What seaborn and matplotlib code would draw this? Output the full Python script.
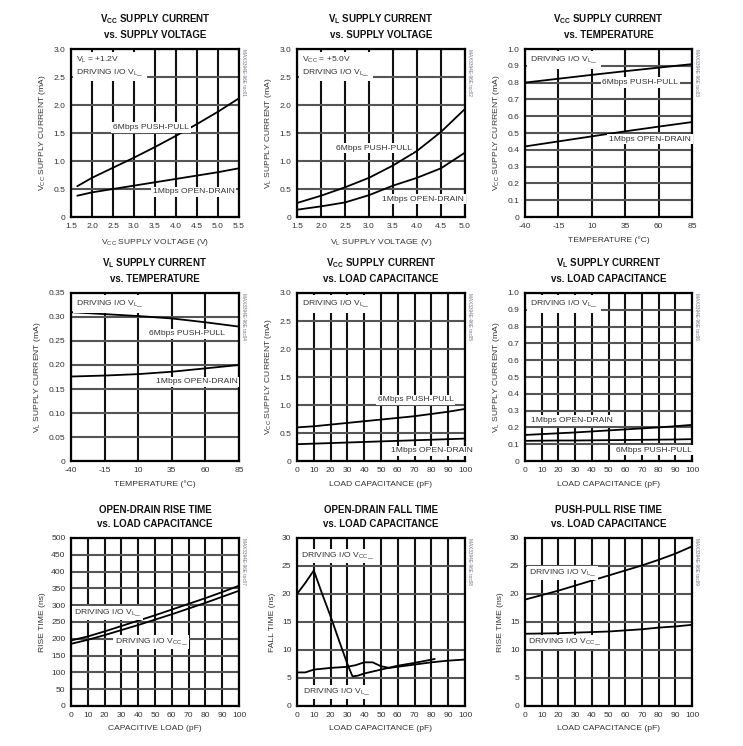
import matplotlib
matplotlib.use('Agg')
import matplotlib.pyplot as plt
import seaborn as sns
import numpy as np

sns.set_style('white')
FONT = ['Liberation Sans', 'DejaVu Sans']
plt.rcParams['font.family'] = FONT
plt.rcParams['mathtext.fontset'] = 'custom'
plt.rcParams['mathtext.rm'] = 'Liberation Sans'
plt.rcParams['mathtext.it'] = 'Liberation Sans'
plt.rcParams['mathtext.bf'] = 'Liberation Sans:bold'
plt.rcParams['mathtext.default'] = 'regular'

TXT = '#333333'
FS = 6.1  # ticks / labels

# ---- data ----
# 1: VCC supply current vs supply voltage
p1_x = [1.65, 2.0, 2.5, 3.0, 3.5, 4.0, 4.5, 5.0, 5.5]
p1_pp = [0.55, 0.70, 0.88, 1.06, 1.25, 1.45, 1.66, 1.88, 2.12]
p1_od = [0.38, 0.44, 0.50, 0.56, 0.62, 0.68, 0.74, 0.80, 0.87]

# 2: VL supply current vs supply voltage
p2_x = [1.5, 2.0, 2.5, 3.0, 3.5, 4.0, 4.5, 5.0]
p2_pp = [0.25, 0.38, 0.53, 0.70, 0.92, 1.18, 1.52, 1.93]
p2_od = [0.13, 0.19, 0.26, 0.39, 0.56, 0.70, 0.87, 1.15]

# 3: VCC supply current vs temperature
temp = [-40, -15, 10, 35, 60, 85]
p3_pp = [0.800, 0.823, 0.846, 0.868, 0.889, 0.910]
p3_od = [0.420, 0.450, 0.480, 0.510, 0.538, 0.565]

# 4: VL supply current vs temperature
p4_pp = [0.310, 0.306, 0.302, 0.297, 0.289, 0.280]
p4_od = [0.176, 0.178, 0.181, 0.186, 0.193, 0.200]

# load capacitance axis
cap = [0, 10, 20, 30, 40, 50, 60, 70, 80, 90, 100]
# 5: VCC supply current vs load capacitance
p5_pp = [0.60, 0.62, 0.65, 0.68, 0.71, 0.74, 0.77, 0.80, 0.84, 0.88, 0.93]
p5_od = [0.30, 0.31, 0.32, 0.33, 0.34, 0.35, 0.36, 0.37, 0.38, 0.39, 0.40]
# 6: VL supply current vs load capacitance
p6_od = [0.155, 0.160, 0.165, 0.170, 0.176, 0.182, 0.188, 0.194, 0.200, 0.207, 0.215]
p6_pp = [0.120, 0.121, 0.122, 0.122, 0.123, 0.124, 0.125, 0.126, 0.127, 0.128, 0.130]
# 7: open-drain rise time
p7_vl = [195, 207, 222, 238, 254, 270, 287, 304, 321, 339, 358]
p7_vcc = [185, 197, 211, 226, 241, 257, 273, 290, 307, 325, 343]
# 8: open-drain fall time
p8_vcc_x = [0, 5, 10, 15, 20, 25, 30, 33, 36, 40, 50, 60, 70, 82]
p8_vcc = [20.0, 22.0, 24.2, 20.0, 16.0, 11.7, 7.5, 5.3, 5.4, 5.8, 6.5, 7.2, 7.7, 8.4]
p8_vl_x = [0, 5, 8, 10, 20, 30, 35, 40, 45, 50, 55, 60, 70, 80, 90, 100]
p8_vl = [6.0, 6.0, 6.3, 6.5, 6.8, 7.0, 7.3, 7.8, 7.8, 7.1, 6.8, 7.0, 7.4, 7.8, 8.1, 8.3]
# 9: push-pull rise time
p9_vl = [19.0, 19.8, 20.6, 21.5, 22.4, 23.3, 24.2, 25.1, 26.1, 27.2, 28.5]
p9_vcc = [12.9, 12.95, 13.0, 13.1, 13.2, 13.3, 13.5, 13.7, 14.0, 14.2, 14.5]

volt_ticks1 = [1.5, 2.0, 2.5, 3.0, 3.5, 4.0, 4.5, 5.0, 5.5]
volt_ticks2 = [1.5, 2.0, 2.5, 3.0, 3.5, 4.0, 4.5, 5.0]
cur3_ticks = [0, 0.5, 1.0, 1.5, 2.0, 2.5, 3.0]
cur3_labels = ['0', '0.5', '1.0', '1.5', '2.0', '2.5', '3.0']
cur1_ticks = [0, 0.1, 0.2, 0.3, 0.4, 0.5, 0.6, 0.7, 0.8, 0.9, 1.0]
cur1_labels = ['0', '0.1', '0.2', '0.3', '0.4', '0.5', '0.6', '0.7', '0.8', '0.9', '1.0']
cur035_ticks = [0, 0.05, 0.10, 0.15, 0.20, 0.25, 0.30, 0.35]
cur035_labels = ['0', '0.05', '0.10', '0.15', '0.20', '0.25', '0.30', '0.35']
rise_ticks = [0, 50, 100, 150, 200, 250, 300, 350, 400, 450, 500]
ns30_ticks = [0, 5, 10, 15, 20, 25, 30]

W, H = 743, 746
fig = plt.figure(figsize=(W / 100, H / 100), dpi=100)

cols = [(71, 239), (297, 465), (525, 692)]
rows = [(49, 217), (293, 461), (538, 706)]


def make_ax(r, c):
    x0, x1 = cols[c]
    y0, y1 = rows[r]
    return fig.add_axes([x0 / W, 1 - y1 / H, (x1 - x0) / W, (y1 - y0) / H])


def style(ax, xt, yt, ylabels, xlabel, ylabel, title, tag, xlabels=None):
    ax.set_xlim(xt[0], xt[-1])
    ax.set_ylim(yt[0], yt[-1])
    ax.set_xticks(xt)
    ax.set_xticklabels(xlabels if xlabels is not None else [str(v) for v in xt])
    ax.set_yticks(yt)
    ax.set_yticklabels(ylabels)
    ax.grid(True, axis='x', color='#111111', lw=1.5, zorder=0)
    ax.grid(True, axis='y', color='#555555', lw=1.5, zorder=0)
    ax.set_axisbelow(True)
    for s in ax.spines.values():
        s.set_color('black')
        s.set_linewidth(1.6)
    ax.tick_params(length=0, pad=4, labelsize=FS, colors=TXT)
    ax.set_xlabel(xlabel, fontsize=FS, color=TXT, labelpad=5)
    ax.set_ylabel(ylabel, fontsize=FS, color=TXT, labelpad=4)
    ax.set_title(title, fontsize=7.0, fontweight='bold', color='#111111', pad=8, linespacing=1.45)
    ax.text(1.025, 1.0, tag, transform=ax.transAxes, rotation=-90, fontsize=3.4,
            color='#6a7080', va='top', ha='center')


def label(ax, x, y, s, **kw):
    ax.text(x, y, s, fontsize=FS, color=TXT, va='center', ha='left', zorder=3,
            bbox=dict(facecolor='white', edgecolor='none', pad=1.2), **kw)


def corner(ax, s):
    ax.text(0.03, 0.965, s, transform=ax.transAxes, fontsize=FS, color=TXT,
            va='top', ha='left', zorder=3, linespacing=1.3,
            bbox=dict(facecolor='white', edgecolor='none', pad=2.5))


def line(ax, x, y):
    sns.lineplot(x=x, y=y, ax=ax, color='black', lw=1.3, zorder=2)


# panel 1
ax = make_ax(0, 0)
line(ax, p1_x, p1_pp)
line(ax, p1_x, p1_od)
style(ax, volt_ticks1, cur3_ticks, cur3_labels, 'V$_{CC}$ SUPPLY VOLTAGE (V)',
      'V$_{CC}$ SUPPLY CURRENT (mA)',
      'V$_{\\mathbf{CC}}$ SUPPLY CURRENT\nvs. SUPPLY VOLTAGE', 'MAX3394E-96E toc01')
corner(ax, 'V$_L$ = +1.2V\nDRIVING I/O V$_L$_')
label(ax, 2.5, 1.6, '6Mbps PUSH-PULL')
label(ax, 3.45, 0.45, '1Mbps OPEN-DRAIN')

# panel 2
ax = make_ax(0, 1)
line(ax, p2_x, p2_pp)
line(ax, p2_x, p2_od)
style(ax, volt_ticks2, cur3_ticks, cur3_labels, 'V$_L$ SUPPLY VOLTAGE (V)',
      'V$_L$ SUPPLY CURRENT (mA)',
      'V$_{\\mathbf{L}}$ SUPPLY CURRENT\nvs. SUPPLY VOLTAGE', 'MAX3394E-96E toc02')
corner(ax, 'V$_{CC}$ = +5.0V\nDRIVING I/O V$_L$_')
label(ax, 2.31, 1.23, '6Mbps PUSH-PULL')
label(ax, 3.27, 0.32, '1Mbps OPEN-DRAIN')

# panel 3
ax = make_ax(0, 2)
line(ax, temp, p3_pp)
line(ax, temp, p3_od)
style(ax, temp, cur1_ticks, cur1_labels, 'TEMPERATURE (°C)',
      'V$_{CC}$ SUPPLY CURRENT (mA)',
      'V$_{\\mathbf{CC}}$ SUPPLY CURRENT\nvs. TEMPERATURE', 'MAX3394E-96E toc03')
corner(ax, 'DRIVING I/O V$_L$_')
label(ax, 18, 0.8, '6Mbps PUSH-PULL')
label(ax, 23, 0.464, '1Mbps OPEN-DRAIN')

# panel 4
ax = make_ax(1, 0)
line(ax, temp, p4_pp)
line(ax, temp, p4_od)
style(ax, temp, cur035_ticks, cur035_labels, 'TEMPERATURE (°C)',
      'V$_L$ SUPPLY CURRENT (mA)',
      'V$_{\\mathbf{L}}$ SUPPLY CURRENT\nvs. TEMPERATURE', 'MAX3394E-96E toc04')
corner(ax, 'DRIVING I/O V$_L$_')
label(ax, 18, 0.265, '6Mbps PUSH-PULL')
label(ax, 23, 0.165, '1Mbps OPEN-DRAIN')

# panel 5
ax = make_ax(1, 1)
line(ax, cap, p5_pp)
line(ax, cap, p5_od)
style(ax, cap, cur3_ticks, cur3_labels, 'LOAD CAPACITANCE (pF)',
      'V$_{CC}$ SUPPLY CURRENT (mA)',
      'V$_{\\mathbf{CC}}$ SUPPLY CURRENT\nvs. LOAD CAPACITANCE', 'MAX3394E-96E toc05')
corner(ax, 'DRIVING I/O V$_L$_')
label(ax, 48, 1.09, '6Mbps PUSH-PULL')
label(ax, 56, 0.18, '1Mbps OPEN-DRAIN')

# panel 6
ax = make_ax(1, 2)
line(ax, cap, p6_od)
line(ax, cap, p6_pp)
style(ax, cap, cur1_ticks, cur1_labels, 'LOAD CAPACITANCE (pF)',
      'V$_L$ SUPPLY CURRENT (mA)',
      'V$_{\\mathbf{L}}$ SUPPLY CURRENT\nvs. LOAD CAPACITANCE', 'MAX3394E-96E toc06')
corner(ax, 'DRIVING I/O V$_L$_')
label(ax, 3.6, 0.24, '1Mbps OPEN-DRAIN')
label(ax, 54.5, 0.065, '6Mbps PUSH-PULL')

# panel 7
ax = make_ax(2, 0)
line(ax, cap, p7_vl)
line(ax, cap, p7_vcc)
style(ax, cap, rise_ticks, [str(v) for v in rise_ticks], 'CAPACITIVE LOAD (pF)',
      'RISE TIME (ns)', 'OPEN-DRAIN RISE TIME\nvs. LOAD CAPACITANCE', 'MAX3394E-96E toc07')
label(ax, 1.5, 277, 'DRIVING I/O V$_L$_')
label(ax, 26, 191, 'DRIVING I/O V$_{CC}$_')

# panel 8
ax = make_ax(2, 1)
line(ax, p8_vcc_x, p8_vcc)
line(ax, p8_vl_x, p8_vl)
style(ax, cap, ns30_ticks, [str(v) for v in ns30_ticks], 'LOAD CAPACITANCE (pF)',
      'FALL TIME (ns)', 'OPEN-DRAIN FALL TIME\nvs. LOAD CAPACITANCE', 'MAX3394E-96E toc08')
label(ax, 2.4, 26.8, 'DRIVING I/O V$_{CC}$_')
label(ax, 3.6, 2.55, 'DRIVING I/O V$_L$_')

# panel 9
ax = make_ax(2, 2)
line(ax, cap, p9_vl)
line(ax, cap, p9_vcc)
style(ax, cap, ns30_ticks, [str(v) for v in ns30_ticks], 'LOAD CAPACITANCE (pF)',
      'RISE TIME (ns)', 'PUSH-PULL RISE TIME\nvs. LOAD CAPACITANCE', 'MAX3394E-96E toc09')
label(ax, 2.4, 23.75, 'DRIVING I/O V$_L$_')
label(ax, 2.0, 11.5, 'DRIVING I/O V$_{CC}$_')

fig.savefig('out.png', dpi=100, facecolor='white')
